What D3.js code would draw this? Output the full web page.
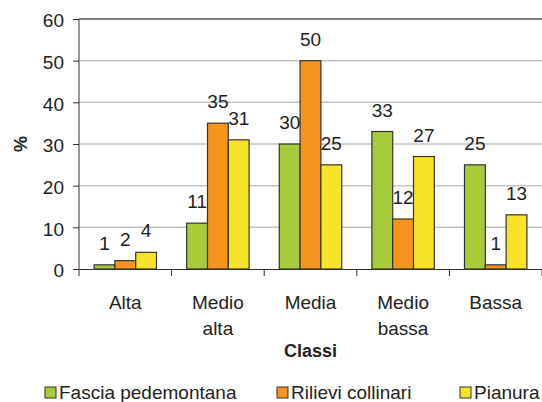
<!DOCTYPE html>
<html>
<head>
<meta charset="utf-8">
<script src="https://cdn.jsdelivr.net/npm/d3@7"></script>
<style>
  html, body { margin: 0; padding: 0; background: #fff; }
  svg { display: block; }
  text { font-family: "Liberation Sans", Arial, Helvetica, sans-serif; fill: #222; }
</style>
</head>
<body>
<svg id="chart" width="542" height="402"></svg>
<script>
// Percentuali per classe e ambito territoriale
const categories = [["Alta"], ["Medio", "alta"], ["Media"], ["Medio", "bassa"], ["Bassa"]];
const seriesNames = ["Fascia pedemontana", "Rilievi collinari", "Pianura"];
const fasciaPedemontana = [1, 11, 30, 33, 25];
const rilieviCollinari = [2, 35, 50, 12, 1];
const pianura = [4, 31, 25, 27, 13];
const yTicks = [0, 10, 20, 30, 40, 50, 60];
const colors = ["#a8cb3a", "#f7941e", "#f7e327"];

const seriesValues = [fasciaPedemontana, rilieviCollinari, pianura];
const catKeys = categories.map(c => c.join(" "));

const svg = d3.select("#chart");
const plotLeft = 79, plotRight = 542, plotTop = 19, plotBottom = 269;

const y = d3.scaleLinear().domain([0, 60]).range([plotBottom, plotTop]);
const x0 = d3.scaleBand().domain(catKeys).range([plotLeft, plotRight])
  .paddingInner(0.326).paddingOuter(0.163);
const x1 = d3.scaleBand().domain(seriesNames).range([0, x0.bandwidth()]);

// griglia orizzontale
svg.append("g").selectAll("line")
  .data(yTicks.filter(t => t > 0 && t < 60))
  .join("line")
  .attr("x1", plotLeft).attr("x2", plotRight)
  .attr("y1", d => y(d)).attr("y2", d => y(d))
  .attr("stroke", "#c4c4c4").attr("stroke-width", 1.5);

// bordo superiore
svg.append("line")
  .attr("x1", plotLeft).attr("x2", plotRight)
  .attr("y1", y(60)).attr("y2", y(60))
  .attr("stroke", "#555").attr("stroke-width", 1.5);

// asse Y
const yAxis = d3.axisLeft(y).tickValues(yTicks).tickSize(6).tickPadding(9);
const gy = svg.append("g").attr("transform", `translate(${plotLeft},0)`).call(yAxis);
gy.select(".domain").remove();
gy.selectAll(".tick line").attr("stroke", "#333");
gy.selectAll(".tick text").attr("font-size", "19px").attr("fill", "#222")
  .attr("dy", "0.42em").style("font-family", "'Liberation Sans', Arial, sans-serif");
svg.append("line").attr("x1", plotLeft).attr("x2", plotLeft)
  .attr("y1", plotTop).attr("y2", plotBottom + 7).attr("stroke", "#333").attr("stroke-width", 1);

// asse X
svg.append("line").attr("x1", plotLeft).attr("x2", plotRight)
  .attr("y1", plotBottom + 0.5).attr("y2", plotBottom + 0.5).attr("stroke", "#333").attr("stroke-width", 1.2);
const step = x0.step();
svg.append("g").selectAll("line")
  .data(d3.range(1, catKeys.length + 1))
  .join("line")
  .attr("x1", i => plotLeft + i * step).attr("x2", i => plotLeft + i * step)
  .attr("y1", plotBottom).attr("y2", plotBottom + 7)
  .attr("stroke", "#333");

// barre
const groups = svg.append("g").selectAll("g")
  .data(catKeys)
  .join("g")
  .attr("transform", d => `translate(${x0(d)},0)`);

groups.each(function(cat, ci) {
  const g = d3.select(this);
  const rows = seriesNames.map((s, si) => ({ s, si, v: seriesValues[si][ci] }));
  g.selectAll("rect").data(rows).join("rect")
    .attr("x", d => x1(d.s)).attr("width", x1.bandwidth())
    .attr("y", d => y(d.v)).attr("height", d => y(0) - y(d.v))
    .attr("fill", d => colors[d.si])
    .attr("stroke", "#333").attr("stroke-width", 1.2);
  g.selectAll("text").data(rows).join("text")
    .attr("x", d => x1(d.s) + x1.bandwidth() / 2)
    .attr("y", d => y(d.v) - 15)
    .attr("text-anchor", "middle")
    .attr("font-size", "19px")
    .text(d => d.v);
});

// etichette categorie
const catLabels = svg.append("g").selectAll("text")
  .data(categories)
  .join("text")
  .attr("x", (d, i) => x0(catKeys[i]) + x0.bandwidth() / 2)
  .attr("y", 309)
  .attr("text-anchor", "middle")
  .attr("font-size", "19px");
catLabels.selectAll("tspan").data(d => d).join("tspan")
  .attr("x", function() { return d3.select(this.parentNode).attr("x"); })
  .attr("dy", (d, i) => i === 0 ? 0 : 26)
  .text(d => d);

// titoli assi
svg.append("text")
  .attr("x", (plotLeft + plotRight) / 2).attr("y", 357)
  .attr("text-anchor", "middle")
  .attr("font-size", "18px").attr("font-weight", "bold")
  .text("Classi");

svg.append("text")
  .attr("transform", `translate(27,${(plotTop + plotBottom) / 2}) rotate(-90)`)
  .attr("text-anchor", "middle")
  .attr("font-size", "18px").attr("font-weight", "bold")
  .text("%");

// legenda
const legendX = [45, 277, 460];
const legend = svg.append("g").selectAll("g")
  .data(seriesNames)
  .join("g")
  .attr("transform", (d, i) => `translate(${legendX[i]},0)`);
legend.append("rect")
  .attr("x", 0).attr("y", 387).attr("width", 11).attr("height", 11)
  .attr("fill", (d, i) => colors[i]).attr("stroke", "#333").attr("stroke-width", 1);
legend.append("text")
  .attr("x", 14).attr("y", 399)
  .attr("font-size", "19px")
  .text(d => d);
</script>
</body>
</html>
